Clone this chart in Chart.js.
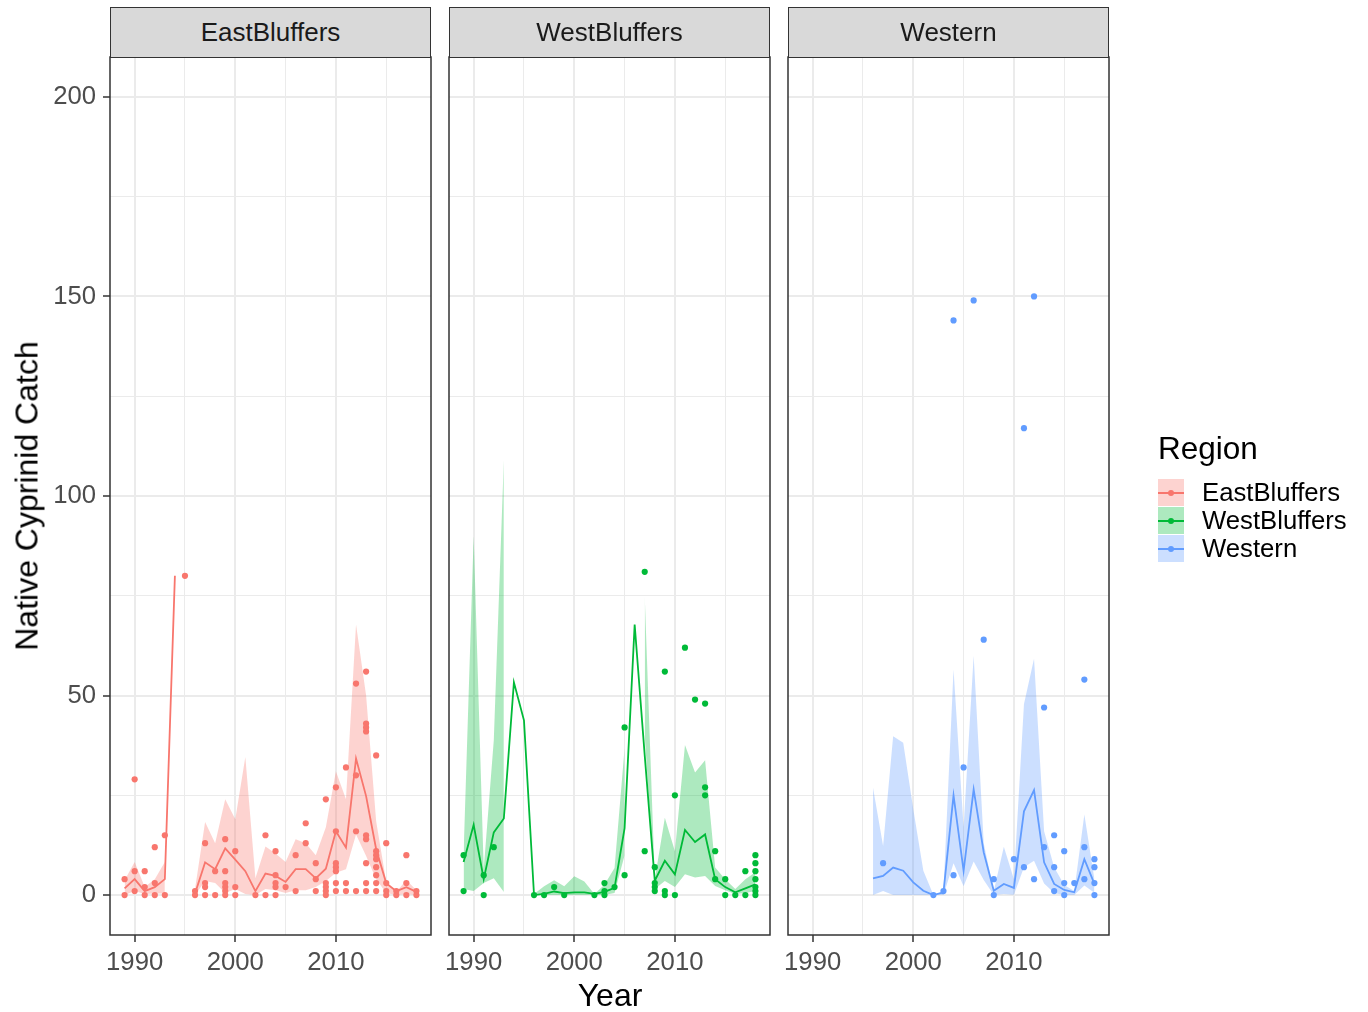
<!DOCTYPE html>
<html>
<head>
<meta charset="utf-8">
<title>Native Cyprinid Catch by Region</title>
<script src="https://cdn.jsdelivr.net/npm/chart.js@4.4.1/dist/chart.umd.min.js"></script>
<style>
  html, body { margin: 0; padding: 0; background: #fff; }
  body { width: 1368px; height: 1012px; position: relative; overflow: hidden;
         font-family: "Liberation Sans", Arial, sans-serif; }
  canvas { position: absolute; left: 0; top: 0; }
  .strip { position: absolute; top: 7px; width: 321px; height: 51px; box-sizing: border-box;
           background: #D9D9D9; border: 1.5px solid #333; color: #1A1A1A;
           font-size: 26px; text-align: center; line-height: 48px; }
  .ytitle { position: absolute; left: 27px; top: 496px; font-size: 32px; color: #000;
            white-space: nowrap; transform: translate(-50%, -50%) rotate(-90deg); }
  .xtitle { position: absolute; left: 610px; top: 995px; font-size: 32px; color: #000;
            transform: translate(-50%, -50%); }
  #legend { position: absolute; left: 1158px; top: 430px; }
  #legend .title { font-size: 31.5px; color: #000; height: 49px; line-height: 36px; }
  #legend .row { position: relative; height: 28px; }
  #legend .key { position: absolute; left: 0; top: 0; width: 26px; height: 27px; }
  #legend .kline { position: absolute; left: 0; top: 13px; width: 26px; height: 1.5px; }
  #legend .kdot { position: absolute; left: 10px; top: 10.5px; width: 6px; height: 6px; border-radius: 50%; }
  #legend .label { position: absolute; left: 44px; top: 0; font-size: 25.7px; line-height: 27px; color: #000; white-space: nowrap; }
</style>
</head>
<body>
<canvas id="panel0" width="1368" height="1012"></canvas>
<canvas id="panel1" width="1368" height="1012"></canvas>
<canvas id="panel2" width="1368" height="1012"></canvas>
<div class="ytitle">Native Cyprinid Catch</div>
<div class="xtitle">Year</div>
<div id="legend"><div class="title">Region</div></div>

<script>
// ---- data ----
const regions = ["EastBluffers", "WestBluffers", "Western"];

const years = [1989, 1990, 1991, 1992, 1993, 1994, 1995, 1996, 1997, 1998,
               1999, 2000, 2001, 2002, 2003, 2004, 2005, 2006, 2007, 2008,
               2009, 2010, 2011, 2012, 2013, 2014, 2015, 2016, 2017, 2018];

const xTickLabels = [1990, 2000, 2010];
const xGrid = [1990, 1995, 2000, 2005, 2010, 2015];
const yTickLabels = [0, 50, 100, 150, 200];
const yGrid = [0, 25, 50, 75, 100, 125, 150, 175, 200];

// EastBluffers
const eastMean  = [1.7, 4, 1, 2, 4, 80, null, 0.4, 8.2, 6.5,
                   11.7, 8.9, 6, 1, 5.4, 4.8, 3.3, 6.5, 6.5, 4.2,
                   6.6, 16, 11.9, 34.2, 24.8, 11.5, 3, 1, 2, 0.8];
const eastUpper = [3.7, 8.3, 2, 4, 8.3, null, null, 1.5, 18.3, 13,
                   24, 19, 34.6, 4.2, 12.2, 10.4, 8.3, 14, 13, 10,
                   17, 31, 24, 67.8, 50, 18.5, 3.3, 0.8, 3.8, 1.2];
const eastLower = [0, 1, 0.3, 0.4, 0.4, null, null, 0, 3.5, 3,
                   0.5, 1.5, 0.3, 0, 1.5, 1.2, 0.5, 1.2, 1.2, 2,
                   3.5, 5.6, 6.5, 15.2, 9.8, 4, 0.5, 0, 0.3, 0];
const eastPtYear = [1989, 1989, 1990, 1990, 1990, 1991, 1991, 1991, 1992, 1992, 1992, 1993, 1993,
                    1995, 1996, 1996, 1997, 1997, 1997, 1997, 1998, 1998,
                    1999, 1999, 1999, 1999, 1999, 1999, 2000, 2000, 2000, 2002, 2003, 2003,
                    2004, 2004, 2004, 2004, 2004, 2005, 2006, 2006, 2007, 2007,
                    2008, 2008, 2008, 2009, 2009, 2009, 2009, 2009,
                    2010, 2010, 2010, 2010, 2010, 2010, 2010, 2011, 2011, 2011,
                    2012, 2012, 2012, 2012,
                    2013, 2013, 2013, 2013, 2013, 2013, 2013, 2013, 2013,
                    2014, 2014, 2014, 2014, 2014, 2014, 2014, 2014,
                    2015, 2015, 2015, 2015, 2016, 2016, 2017, 2017, 2017, 2018, 2018];
const eastPtVal  = [4, 0, 29, 6, 1, 6, 2, 0, 12, 3, 0, 15, 0,
                    80, 1, 0, 13, 3, 2, 0, 6, 0,
                    14, 6, 3, 2, 1, 0, 11, 2, 0, 0, 15, 0,
                    11, 5, 3, 2, 0, 2, 10, 1, 18, 13,
                    8, 4, 1, 24, 3, 2, 1, 0,
                    27, 16, 8, 7, 6, 3, 1, 32, 3, 1,
                    53, 30, 16, 1,
                    56, 43, 42, 41, 15, 14, 8, 3, 1,
                    35, 11, 10, 9, 7, 5, 3, 1,
                    13, 3, 1, 0, 1, 0, 10, 3, 0, 1, 0];

// WestBluffers
const westMean  = [8.3, 17.6, 4, 15.7, 19.2, 53.3, 43.8, 0, 0.3, 0.9,
                   0.5, 0.7, 0.7, 0.3, 0.8, 1.8, 16.8, 67.8, 35, 3.6,
                   8.6, 5.2, 16.3, 13.3, 15.2, 4, 2, 0.7, 1.7, 2.7];
const westUpper = [10.5, 90, 6.5, 38.8, 109, null, null, 0.3, 2.2, 3.7,
                   2.2, 4.7, 3.4, 0.3, 2.6, 6.8, 36.8, null, 75, 4,
                   19.4, 11, 37.6, 30.7, 33.8, 6.9, 4, 1.5, 4, 5.7];
const westLower = [1.5, 1, 3, 4.2, 0.8, null, null, 0, 0, 0,
                   0, 0, 0, 0, 0, 0.5, 10, null, 40, 1.5,
                   3.5, 2, 5.2, 4.4, 4.8, 2.3, 1.2, 0.3, 0.5, 1];
const westPtYear = [1989, 1989, 1991, 1991, 1992, 1996, 1997, 1998, 1999, 2002,
                    2003, 2003, 2003, 2004, 2005, 2005, 2007, 2007,
                    2008, 2008, 2008, 2008, 2009, 2009, 2009, 2010, 2010, 2011, 2012,
                    2013, 2013, 2013, 2014, 2014, 2015, 2015, 2016, 2017, 2017,
                    2018, 2018, 2018, 2018, 2018, 2018, 2018];
const westPtVal  = [10, 1, 5, 0, 12, 0, 0, 2, 0, 0,
                    3, 1, 0, 2, 42, 5, 81, 11,
                    7, 3, 2, 1, 56, 1, 0, 25, 0, 62, 49,
                    48, 27, 25, 11, 4, 4, 0, 0, 6, 0,
                    10, 8, 6, 4, 2, 1, 0];

// Western
const wstMean  = [null, null, null, null, null, null, null, 4.2, 4.8, 6.9,
                  6.1, 3.2, 1.1, 0, 0.7, 25, 6.1, 26.5, 10.7, 1.1,
                  2.8, 1.8, 21, 26.3, 8.2, 2.8, 1.3, 0.7, 9, 2.8];
const wstUpper = [null, null, null, null, null, null, null, 26.9, 12.3, 39.8,
                  38.2, 21.5, 6.1, 0, 1, 56.5, 17, 60, 13, 1,
                  12.1, 4, 47.9, 59.2, 16, 7, 2.5, 1, 20.2, 4];
const wstLower = [null, null, null, null, null, null, null, 0, 1, 0,
                  0, 0, 0, 0, 0, 8, 2.2, 8.4, 3.8, 0,
                  0.3, 0.1, 7, 8.6, 2.9, 0.5, 0, 0, 2.4, 0.6];
const wstPtYear = [1997, 2002, 2003, 2004, 2004, 2005, 2006, 2007, 2008, 2008,
                   2010, 2011, 2011, 2012, 2012, 2013, 2013, 2014, 2014, 2014,
                   2015, 2015, 2015, 2016, 2017, 2017, 2017, 2018, 2018, 2018, 2018];
const wstPtVal  = [8, 0, 1, 144, 5, 32, 149, 64, 4, 0,
                   9, 117, 7, 150, 4, 47, 12, 15, 7, 1,
                   11, 3, 0, 3, 54, 12, 4, 9, 7, 3, 0];

// ---- layout & style ----
const PAGE_W = 1368, PAGE_H = 1012;
const PANEL_LEFT = [110, 449, 788];
const PANEL_W = 321;
const PANEL_TOP = 57, PANEL_BOTTOM = 935;
const X_AXIS_H = 45;
const X_MIN = 1987.55, X_MAX = 2019.45;
const Y_MIN = -10, Y_MAX = 210;
const FONT = '"Liberation Sans", Arial, sans-serif';
const TICK_SIZE = 25.7;
const LINE_COLORS = ["#F8766D", "#00BA38", "#619CFF"];
const FILL_COLORS = ["rgba(248,118,109,0.32)", "rgba(0,186,56,0.32)", "rgba(97,156,255,0.32)"];

const panelBorder = {
  id: "panelBorder",
  afterDraw(chart) {
    const a = chart.chartArea, ctx = chart.ctx;
    ctx.save();
    ctx.strokeStyle = "#333333";
    ctx.lineWidth = 1.5;
    ctx.strokeRect(a.left, a.top, a.right - a.left, a.bottom - a.top);
    ctx.restore();
  }
};

function renderPanel(idx, mean, upper, lower, ptYear, ptVal) {
  const left = PANEL_LEFT[idx];
  const first = idx === 0;
  const toXY = arr => years.map((yr, i) => ({ x: yr, y: arr[i] }));
  const obs = ptYear.map((yr, i) => ({ x: yr, y: ptVal[i] }));
  const color = LINE_COLORS[idx];

  // strip label
  const strip = document.createElement("div");
  strip.className = "strip";
  strip.style.left = left + "px";
  strip.textContent = regions[idx];
  document.body.appendChild(strip);

  new Chart(document.getElementById("panel" + idx), {
    type: "line",
    data: {
      datasets: [
        { label: "upper", data: toXY(upper), borderColor: "transparent", borderWidth: 0,
          pointRadius: 0, backgroundColor: FILL_COLORS[idx], fill: "+1", order: 4 },
        { label: "lower", data: toXY(lower), borderColor: "transparent", borderWidth: 0,
          pointRadius: 0, fill: false, order: 5 },
        { label: "mean", data: toXY(mean), borderColor: color, borderWidth: 1.8,
          pointRadius: 0, fill: false, order: 2 },
        { label: "catch", data: obs, showLine: false, pointRadius: 3.1,
          pointBackgroundColor: color, pointBorderWidth: 0, order: 1 }
      ]
    },
    options: {
      responsive: false,
      animation: false,
      devicePixelRatio: 1,
      spanGaps: false,
      layout: {
        padding: {
          left: first ? 0 : left,
          right: PAGE_W - left - PANEL_W,
          top: PANEL_TOP,
          bottom: PAGE_H - PANEL_BOTTOM - X_AXIS_H
        }
      },
      plugins: {
        legend: { display: false },
        tooltip: { enabled: false },
        filler: { drawTime: "beforeDatasetsDraw" }
      },
      scales: {
        x: {
          type: "linear",
          min: X_MIN,
          max: X_MAX,
          afterFit: s => { s.height = X_AXIS_H; },
          afterBuildTicks: s => { s.ticks = xGrid.map(v => ({ value: v })); },
          border: { display: false },
          grid: {
            color: "#EBEBEB",
            lineWidth: c => (c.tick && xTickLabels.includes(c.tick.value)) ? 2 : 1,
            tickColor: c => (c.tick && xTickLabels.includes(c.tick.value)) ? "#333333" : "rgba(0,0,0,0)",
            tickLength: 7,
            tickWidth: 1.5
          },
          ticks: {
            autoSkip: false,
            maxRotation: 0,
            padding: 5,
            color: "#4D4D4D",
            font: { family: FONT, size: TICK_SIZE },
            callback: v => xTickLabels.includes(v) ? String(v) : ""
          }
        },
        y: {
          type: "linear",
          min: Y_MIN,
          max: Y_MAX,
          afterFit: s => { s.width = first ? left : 0; },
          afterBuildTicks: s => { s.ticks = yGrid.map(v => ({ value: v })); },
          border: { display: false },
          grid: {
            color: "#EBEBEB",
            lineWidth: c => (c.tick && yTickLabels.includes(c.tick.value)) ? 2 : 1,
            drawTicks: first,
            tickColor: c => (c.tick && yTickLabels.includes(c.tick.value)) ? "#333333" : "rgba(0,0,0,0)",
            tickLength: 7,
            tickWidth: 1.5
          },
          ticks: {
            display: first,
            padding: 7,
            color: "#4D4D4D",
            font: { family: FONT, size: TICK_SIZE },
            callback: v => yTickLabels.includes(v) ? String(v) : ""
          }
        }
      }
    },
    plugins: [panelBorder]
  });
}

renderPanel(0, eastMean, eastUpper, eastLower, eastPtYear, eastPtVal);
renderPanel(1, westMean, westUpper, westLower, westPtYear, westPtVal);
renderPanel(2, wstMean, wstUpper, wstLower, wstPtYear, wstPtVal);

// legend
const legend = document.getElementById("legend");
regions.forEach((name, i) => {
  const row = document.createElement("div");
  row.className = "row";
  row.innerHTML =
    '<div class="key" style="background:' + FILL_COLORS[i] + '">' +
    '<div class="kline" style="background:' + LINE_COLORS[i] + '"></div>' +
    '<div class="kdot" style="background:' + LINE_COLORS[i] + '"></div></div>' +
    '<div class="label"></div>';
  row.querySelector(".label").textContent = name;
  legend.appendChild(row);
});
</script>
</body>
</html>
